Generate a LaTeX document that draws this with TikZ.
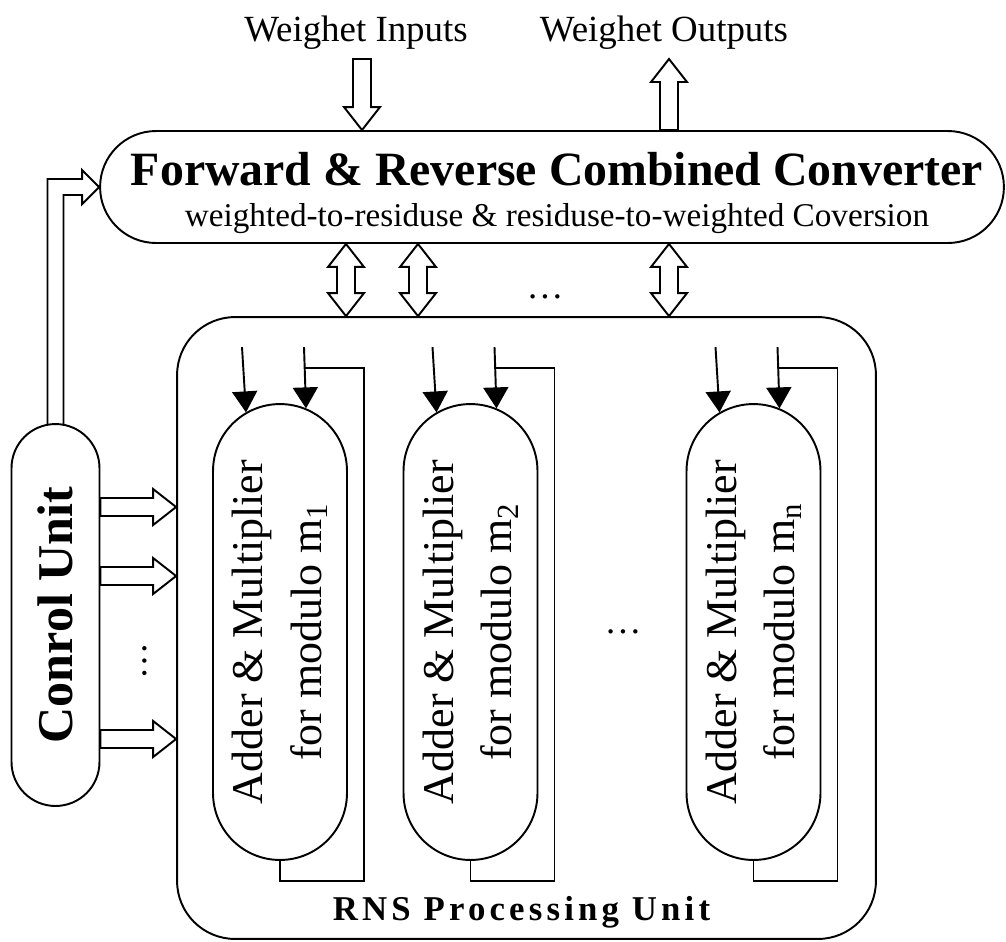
\documentclass[tikz,border=0pt]{standalone}
\usepackage{fontspec}
\setmainfont{Liberation Serif}
\usetikzlibrary{arrows.meta, shapes.misc, positioning, calc}

% hollow block arrows between two named points
\newcommand{\bahead}{0.46cm}
\newcommand{\bashaft}{0.18cm}
\newcommand{\bawide}{0.36cm}
\newcommand{\blockarrow}[2]{%
  \coordinate (bah) at ($(#2)!\bahead!(#1)$);
  \draw[blockline] ($(#1)!\bashaft!90:(#2)$) -- ($(bah)!\bashaft!90:(#2)$) -- ($(bah)!\bawide!90:(#2)$)
    -- (#2) -- ($(bah)!\bawide!-90:(#2)$) -- ($(bah)!\bashaft!-90:(#2)$) -- ($(#1)!\bashaft!-90:(#2)$) -- cycle;
}
\newcommand{\dblblockarrow}[2]{%
  \coordinate (bah1) at ($(#1)!\bahead!(#2)$);
  \coordinate (bah2) at ($(#2)!\bahead!(#1)$);
  \draw[blockline] (#1) -- ($(bah1)!\bawide!90:(#2)$) -- ($(bah1)!\bashaft!90:(#2)$) -- ($(bah2)!\bashaft!90:(#2)$)
    -- ($(bah2)!\bawide!90:(#2)$) -- (#2) -- ($(bah2)!\bawide!-90:(#2)$) -- ($(bah2)!\bashaft!-90:(#2)$)
    -- ($(bah1)!\bashaft!-90:(#2)$) -- ($(bah1)!\bawide!-90:(#2)$) -- cycle;
}

\begin{document}
\begin{tikzpicture}[x=0.02cm, y=-0.02cm, line width=1.1pt,
    capsule/.style={rounded rectangle, draw, line width=1.1pt, inner sep=0pt},
    modbox/.style={capsule, rotate=90, minimum width=9.12cm, minimum height=2.68cm, align=center,
        font=\fontsize{25pt}{33.4pt}\selectfont},
    unitbox/.style={rectangle, draw, rounded corners=1.16cm, line width=1.1pt,
        minimum width=13.98cm, minimum height=12.44cm},
    toplabel/.style={anchor=base, font=\fontsize{21pt}{25pt}\selectfont},
    dots/.style={font=\fontsize{21pt}{25pt}\selectfont, inner sep=0pt},
    blockline/.style={draw, fill=white, line width=1.1pt, line join=miter},
    inarrow/.style={-{Triangle[length=0.42cm, width=0.5cm]}, line width=1.1pt},
    loopline/.style={line width=1.1pt}
]
    \useasboundingbox (0,0) rectangle (1006,941);

    % converter
    \node[capsule, minimum width=18.08cm, minimum height=2.24cm] (conv) at (552,187) {};
    \node[anchor=base, font=\bfseries\fontsize{27.2pt}{30pt}\selectfont] (convtitle) at (557,185)
        {Forward \& Reverse Combined Converter};
    \node[anchor=base, font=\fontsize{18.9pt}{22pt}\selectfont] (convsub) at (557,226)
        {weighted-to-residuse \& residuse-to-weighted Coversion};

    \node[toplabel] (inlabel)  at (356,41) {Weighet Inputs};
    \node[toplabel] (outlabel) at (664,41) {Weighet Outputs};

    \coordinate (inT)  at (362,59);
    \coordinate (inB)  at (inT |- conv.north);
    \coordinate (outT) at (669,59);
    \coordinate (outB) at (outT |- conv.north);
    \blockarrow{inT}{inB}
    \blockarrow{outB}{outT}

    % processing unit
    \node[unitbox] (rns) at (526.5,628) {};
    \node[anchor=base, font=\bfseries\fontsize{19.8pt}{24pt}\selectfont\addfontfeatures{LetterSpace=12}]
        (rnslabel) at (521.5,920) {RNS Processing Unit};

    \foreach \xx [count=\i] in {346,418,669} {
        \coordinate (bu\i) at (conv.south -| \xx,0);
        \coordinate (bl\i) at (rns.north -| \xx,0);
        \dblblockarrow{bu\i}{bl\i}
    }
    \node[dots] (dtop) at (545,297) {…};

    % modules with feedback
    \foreach \nm/\cx/\sub in {m1/280/1, m2/470.5/2, mn/753.5/n} {
        \node[modbox] (\nm) at (\cx,632) {Adder \& Multiplier\\for modulo m\textsubscript{\sub}};
        \coordinate (\nm a) at ($(\nm.east)+(-38,-56)$);
        \coordinate (\nm b) at ($(\nm.east)+(24,-56)$);
        \draw[inarrow] (\nm a) -- ($(\nm.east)+(-34,9.3)$);
        \draw[inarrow] (\nm b) -- ($(\nm.east)+(26,5.3)$);
        \draw[loopline] (\nm.west) -- ++(0,20) -| ($(\nm.east)+(84,-35)$) -- ($(\nm.east)+(25,-35)$);
    }
    \node[dots] (dmid) at (623,632) {…};

    % control unit
    \node[capsule, rotate=90, minimum width=7.64cm, minimum height=1.76cm,
        font=\bfseries\fontsize{28.5pt}{32pt}\selectfont] (ctrl) at (55.5,615) {Conrol Unit};

    \foreach \yy [count=\i] in {507,576,739} {
        \coordinate (cs\i) at (ctrl.south |- 0,\yy);
        \coordinate (ct\i) at (rns.west |- 0,\yy);
        \blockarrow{cs\i}{ct\i}
    }
    \node[dots, rotate=90] (dleft) at (145,661) {…};

    \coordinate (bend) at (ctrl.east |- conv.west);
    \draw[blockline, fill=none] ($(ctrl.east)+(-8,1)$) -- ($(bend)+(-8,-8)$) -- ($(conv.west)+(-17,-8)$)
        -- ($(conv.west)+(-17,-17)$) -- (conv.west) -- ($(conv.west)+(-17,17)$) -- ($(conv.west)+(-17,8)$)
        -- ($(bend)+(8,8)$) -- ($(ctrl.east)+(8,1)$);
\end{tikzpicture}
\end{document}
